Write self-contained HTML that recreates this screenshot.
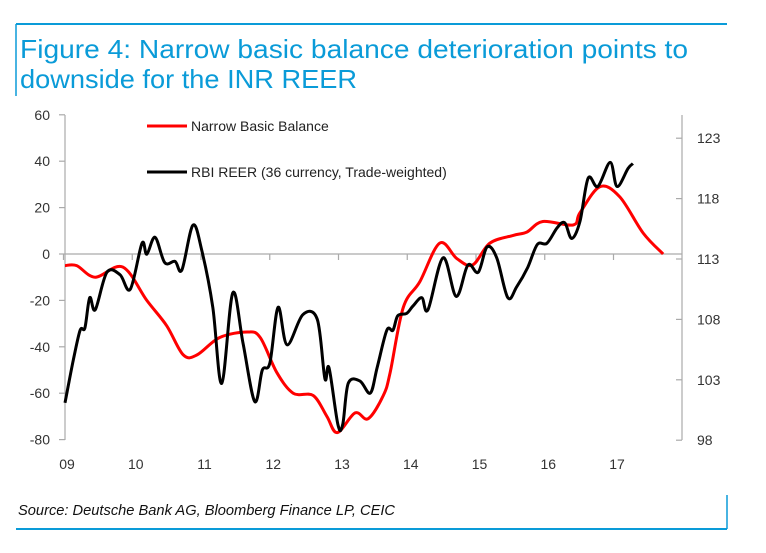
<!DOCTYPE html>
<html><head><meta charset="utf-8">
<style>
body{margin:0;background:#fff;width:766px;height:553px;overflow:hidden;font-family:"Liberation Sans",sans-serif;}
svg{display:block}
</style></head>
<body>
<svg id="chart" width="766" height="553">
<line x1="16" y1="24" x2="727" y2="24" stroke="#0a9bd8" stroke-width="2"/>
<line x1="16" y1="24" x2="16" y2="96" stroke="#0a9bd8" stroke-width="1.5"/>
<g>
<text x="20" y="58" font-size="26" fill="#0a9bd8" textLength="668" lengthAdjust="spacingAndGlyphs">Figure 4: Narrow basic balance deterioration points to</text>
<text x="20" y="88" font-size="26" fill="#0a9bd8" textLength="337" lengthAdjust="spacingAndGlyphs">downside for the INR REER</text>
</g>
<line x1="16" y1="529" x2="727" y2="529" stroke="#0a9bd8" stroke-width="2"/>
<line x1="727" y1="495" x2="727" y2="529" stroke="#0a9bd8" stroke-width="1.5"/>
<text x="18" y="515" font-size="15" font-style="italic" fill="#111" textLength="377" lengthAdjust="spacingAndGlyphs">Source: Deutsche Bank AG, Bloomberg Finance LP, CEIC</text>
<g id="axes"></g>
<g id="series"></g>
<g>
<line x1="147" y1="126" x2="187" y2="126" stroke="#f00" stroke-width="3"/>
<text x="191" y="131" font-size="14" fill="#222">Narrow Basic Balance</text>
<line x1="147" y1="172" x2="187" y2="172" stroke="#000" stroke-width="3"/>
<text x="191" y="177" font-size="14" fill="#222">RBI REER (36 currency, Trade-weighted)</text>
</g>
</svg>
<script>
const xTickYears=[2009,2010,2011,2012,2013,2014,2015,2016,2017];
const xTickLabels=["09","10","11","12","13","14","15","16","17"];
const leftTicks=[60,40,20,0,-20,-40,-60,-80];
const rightTicks=[123,118,113,108,103,98];
const redYears=[2009.00,2009.17,2009.44,2009.84,2010.19,2010.48,2010.72,2010.92,2011.25,2011.65,2011.84,2012.08,2012.32,2012.61,2012.81,2012.96,2013.22,2013.41,2013.63,2013.73,2013.92,2014.16,2014.45,2014.70,2014.93,2015.18,2015.52,2015.72,2015.95,2016.39,2016.49,2016.78,2017.07,2017.41,2017.70];
const redValues=[-5,-5,-10,-5.6,-20,-31,-43.5,-43.5,-36,-33.6,-36,-51,-60,-61,-70,-77,-68.5,-71,-61,-51,-23,-12,4.7,-2,-4.7,4.7,8,9.5,14,12.5,17.7,29,24.6,9,0];
const blackYears=[2009.00,2009.12,2009.22,2009.29,2009.36,2009.44,2009.61,2009.80,2009.95,2010.12,2010.19,2010.31,2010.45,2010.60,2010.70,2010.86,2010.99,2011.15,2011.28,2011.44,2011.59,2011.76,2011.87,2011.98,2012.10,2012.23,2012.46,2012.67,2012.78,2012.84,2012.97,2013.04,2013.12,2013.29,2013.44,2013.54,2013.68,2013.77,2013.84,2013.97,2014.06,2014.19,2014.28,2014.50,2014.69,2014.86,2015.01,2015.14,2015.28,2015.44,2015.57,2015.73,2015.87,2016.01,2016.16,2016.27,2016.37,2016.49,2016.61,2016.75,2016.93,2017.03,2017.19,2017.26];
const blackValues=[101.1,104.6,107.1,107.3,109.8,108.8,111.9,111.7,110.5,114.3,113.4,114.8,112.7,112.8,112.1,115.8,113.7,109,102.7,110.2,106,101.2,103.8,104.4,109,105.9,108.4,108,103.1,104,99.3,99.3,102.7,102.9,101.9,104,107.1,107.1,108.3,108.5,109.1,109.8,108.8,113.1,109.9,112.5,111.9,114,113.1,109.8,110.7,112.3,114.2,114.3,115.6,116,114.7,116.1,119.7,119,121,119,120.5,120.9];

const X=y=>65+(y-2009)*68.75;
const YL=v=>254-v*2.32;
const YR=v=>259-(v-113)*12.08;
const NS="http://www.w3.org/2000/svg";
function mk(tag,attrs,parent,txt){const e=document.createElementNS(NS,tag);for(const k in attrs)e.setAttribute(k,attrs[k]);if(txt!==undefined)e.textContent=txt;parent.appendChild(e);return e;}
const axes=document.getElementById('axes');
let e;
e=mk('line',{x1:65,y1:115,x2:65,y2:440,stroke:'#aaa','stroke-width':1.2},axes);


e=mk('line',{x1:682,y1:115,x2:682,y2:440,stroke:'#aaa','stroke-width':1.2},axes);


e=mk('line',{x1:65,y1:YL(0),x2:682,y2:YL(0),stroke:'#aaa','stroke-width':1.2},axes);


leftTicks.forEach(v=>{
  mk('line',{x1:59,y1:YL(v),x2:65,y2:YL(v),stroke:'#aaa','stroke-width':1.2},axes);
  e=mk('text',{x:50,y:YL(v)+5,'font-size':14,fill:'#333','text-anchor':'end'},axes,String(v));
  
  
});
rightTicks.forEach(v=>{
  mk('line',{x1:676,y1:YR(v),x2:682,y2:YR(v),stroke:'#aaa','stroke-width':1.2},axes);
  e=mk('text',{x:697,y:YR(v)+5,'font-size':14,fill:'#333'},axes,String(v));
  
  
});
xTickYears.forEach((yr,i)=>{
  const x=X(yr)-1.5;
  mk('line',{x1:x,y1:YL(0),x2:x,y2:YL(0)+6,stroke:'#aaa','stroke-width':1.2},axes);
  e=mk('text',{x:X(yr)+2,y:469,'font-size':14,fill:'#333','text-anchor':'middle'},axes,xTickLabels[i]);
  
  
});
function smooth(pts){
  let d='M'+pts[0][0].toFixed(1)+','+pts[0][1].toFixed(1);
  for(let i=0;i<pts.length-1;i++){
    const p0=pts[Math.max(0,i-1)],p1=pts[i],p2=pts[i+1],p3=pts[Math.min(pts.length-1,i+2)];
    const c1=[p1[0]+(p2[0]-p0[0])/6,p1[1]+(p2[1]-p0[1])/6];
    const c2=[p2[0]-(p3[0]-p1[0])/6,p2[1]-(p3[1]-p1[1])/6];
    d+=' C'+c1.map(n=>n.toFixed(1))+' '+c2.map(n=>n.toFixed(1))+' '+p2.map(n=>n.toFixed(1));
  }
  return d;
}
const series=document.getElementById('series');
e=mk('path',{d:smooth(redYears.map((y,i)=>[X(y),YL(redValues[i])])),fill:'none',stroke:'#f00','stroke-width':3,'stroke-linejoin':'round'},series);


e=mk('path',{d:smooth(blackYears.map((y,i)=>[X(y),YR(blackValues[i])])),fill:'none',stroke:'#000','stroke-width':3,'stroke-linejoin':'round'},series);


</script>
</body></html>
